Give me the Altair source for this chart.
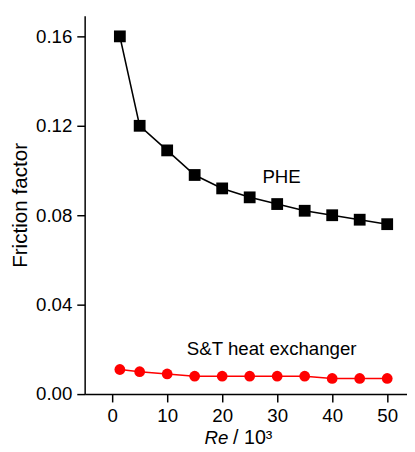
import altair as alt
import pandas as pd

re_vals = [1.4, 5, 10, 15, 20, 25, 30, 35, 40, 45, 50]
phe = [0.160, 0.120, 0.109, 0.098, 0.092, 0.088, 0.085, 0.082, 0.080, 0.078, 0.076]
st = [0.011, 0.010, 0.009, 0.008, 0.008, 0.008, 0.008, 0.008, 0.007, 0.007, 0.007]
series_names = ["PHE", "S&T heat exchanger"]
x_ticks = [0, 10, 20, 30, 40, 50]
y_ticks = [0.00, 0.04, 0.08, 0.12, 0.16]

df = pd.DataFrame({
    "Re": re_vals + re_vals,
    "f": phe + st,
    "series": [series_names[0]] * len(re_vals) + [series_names[1]] * len(re_vals),
})
one = pd.DataFrame({"k": [0]})

FONT = "Liberation Sans"

x = alt.X("Re:Q", scale=alt.Scale(domain=[-5, 53.6], nice=False, zero=False),
          axis=alt.Axis(values=x_ticks, title=None, format="d"))
y = alt.Y("f:Q", scale=alt.Scale(domain=[0, 0.16923], nice=False),
          axis=alt.Axis(values=y_ticks, format=".2f", title="Friction factor",
                        titlePadding=5, titleFontSize=21))
color = alt.Color("series:N", scale=alt.Scale(domain=series_names, range=["black", "red"]), legend=None)
shape = alt.Shape("series:N", scale=alt.Scale(domain=series_names, range=["square", "circle"]), legend=None)
size = alt.Size("series:N", scale=alt.Scale(domain=series_names, range=[144, 120]), legend=None)

base = alt.Chart(df)
lines = base.mark_line(strokeWidth=1.6).encode(x=x, y=y, color=color, detail="series:N")
points = base.mark_point(filled=True, opacity=1).encode(x=x, y=y, color=color, shape=shape, size=size)

txt = alt.Chart(one)
ann_phe = txt.mark_text(text=series_names[0], fontSize=19, font=FONT, color="black",
                        align="center", baseline="middle").encode(
    x=alt.datum(30.8), y=alt.datum(0.0971))
ann_st = txt.mark_text(text=series_names[1], fontSize=19, font=FONT, color="black",
                       align="center", baseline="middle").encode(
    x=alt.datum(29.0), y=alt.datum(0.0201))

t_re = txt.mark_text(text="Re", fontSize=19, font=FONT, fontStyle="italic", color="black",
                     align="left", baseline="alphabetic").encode(
    x=alt.value(122), y=alt.value(436))
t_10 = txt.mark_text(text="/ 10³", fontSize=20, font=FONT, color="black",
                     align="left", baseline="alphabetic").encode(
    x=alt.value(151), y=alt.value(436))

chart = alt.layer(lines, points, ann_phe, ann_st, t_re, t_10).properties(
    width=328, height=385,
    autosize=alt.AutoSizeParams(type="none"),
    padding={"left": 78, "top": 4, "right": 0, "bottom": 52},
    background="white",
).configure_view(stroke=None).configure_axis(
    domainColor="black", domainWidth=1.5, tickColor="black", tickWidth=1.5, tickSize=8,
    labelColor="black", labelFont=FONT, labelFontSize=19, labelPadding=5,
    titleColor="black", titleFont=FONT, titleFontWeight="normal",
    grid=False,
)

chart.save("out.html", embed_options={"renderer": "svg", "actions": False})
